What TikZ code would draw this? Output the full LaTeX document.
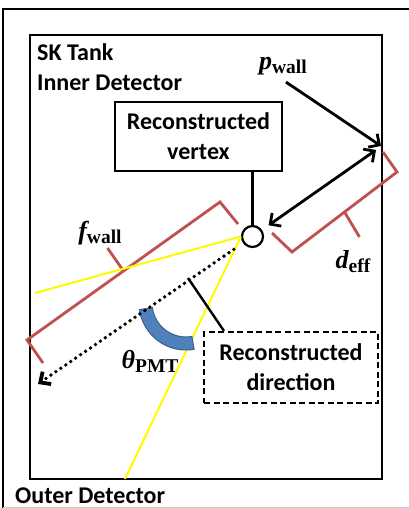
\documentclass[tikz,border=0pt]{standalone}
\usepackage[no-math]{fontspec}
\setmainfont{Carlito}
\newfontfamily\lblserif{Liberation Serif}
\usetikzlibrary{arrows.meta,positioning,calc}
\definecolor{bracered}{RGB}{192,80,77}
\definecolor{arcblue}{RGB}{79,129,189}
\definecolor{arcedge}{RGB}{56,93,138}
\definecolor{rayyellow}{RGB}{255,250,0}
\newcommand{\varlbl}[2]{{\fontsize{26}{30}\selectfont\bfseries\itshape #1}\raisebox{-4pt}{\fontsize{19.5}{22}\selectfont\bfseries #2}}

\begin{document}
\begin{tikzpicture}[x=1pt, y=-1pt,
  txt/.style={font=\fontsize{24}{30}\selectfont\bfseries, align=center},
  lbl/.style={font=\lblserif, inner sep=0pt},
  vbox/.style={draw=black, line width=2pt, txt, minimum width=167pt, minimum height=69pt, inner sep=0pt},
  dbox/.style={vbox, dash pattern=on 6pt off 3.5pt, minimum width=174pt, minimum height=71pt},
  frame/.style={line width=2pt},
  arrow/.style={-{Straight Barb[length=8pt,width=16pt]}, line width=2.8pt},
  dotdir/.style={-{Straight Barb[length=8pt,width=15pt]}, line width=3.8pt, dash pattern=on 0pt off 6pt, line cap=round},
  ray/.style={draw=rayyellow, line width=2pt},
  brace/.style={draw=bracered, line width=2.8pt}
]
  \useasboundingbox (0,0) rectangle (409,508);

  % detector outlines
  \draw[frame] (409,9) -- (3,9) -- (3,508);
  \draw[gray!40, line width=1pt] (3,507) -- (409,507);
  \draw[line width=2.4pt] (30,35) rectangle (382,479);

  \node[txt, align=left, anchor=north west, inner sep=0pt] (idlbl) at (37,43) {SK Tank\\Inner Detector};
  \node[txt, anchor=base west, inner sep=0pt] (odlbl) at (15,503) {Outer Detector};

  % red brackets
  \draw[brace] (272,233) -- (292,252) -- (397,172) -- (383,152);
  \draw[brace] ($(292,252)!0.5!(397,172)$) -- ++(15,25);
  \draw[brace] (238,224) -- (220,202) -- (27,340) -- (43,363);
  \draw[brace] ($(220,202)!0.5!(27,340)$) -- ++(-16,-23);

  % boxes and vertex
  \node[vbox] (vbox) at (198.5,136.5) {Reconstructed\\vertex};
  \node[circle, draw, line width=2.2pt, minimum size=21pt, inner sep=0pt] (vtx) at (252.5,236.5) {};
  \node[dbox] (dbox) at (291,367.5) {Reconstructed\\direction};

  \node[lbl] (pw) at (283,66) {\varlbl{p}{wall}};
  \node[lbl] (fw) at (100,233) {\varlbl{f}{wall}};
  \node[lbl] (de) at (353,262) {\varlbl{d}{eff}};
  \node[lbl] (th) at (150,361) {\varlbl{θ}{PMT}};

  \coordinate (wallpt) at (381,146);
  \coordinate (wallpt2) at (376,150);
  \coordinate (rayL) at (35,293);
  \coordinate (rayB) at (125,479);
  \coordinate (dirtip) at (38,384);
  \coordinate (dirpt) at (188,278);

  % light rays
  \draw[ray] (vtx.west) -- (rayL);
  \draw[ray] (vtx.west) -- (rayB);

  % angle
  \filldraw[fill=arcblue, draw=arcedge, line width=1pt]
    (186,303) ++(80:47) arc[start angle=80, end angle=172, radius=47]
    -- ($(186,303)+(172:34)$) arc[start angle=172, end angle=80, radius=34] -- cycle;

  \draw[dotdir, shorten <=11pt] (vtx) -- (dirtip);
  \draw[line width=2.4pt] (vbox.south -| vtx) -- (vtx.north);
  \draw[line width=2.4pt] ([xshift=21pt]dbox.north west) -- (dirpt);
  \draw[arrow] ([shift={(3,7)}]pw.south) -- (wallpt);
  \draw[arrow, {Straight Barb[length=8pt,width=16pt]}-{Straight Barb[length=8pt,width=16pt]}, shorten <=8pt] (vtx) -- (wallpt2);
\end{tikzpicture}
\end{document}
